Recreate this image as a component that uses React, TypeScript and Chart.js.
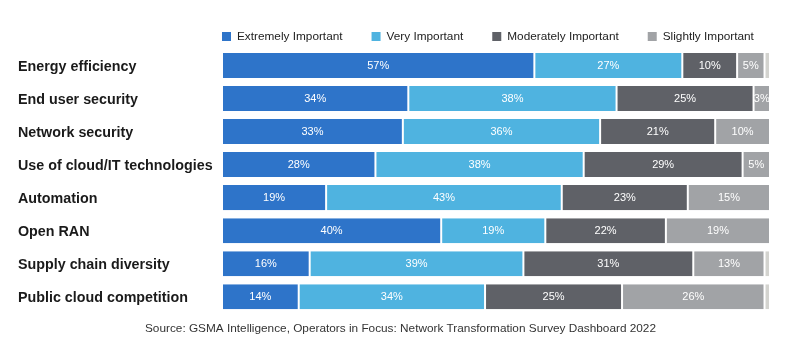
import React, { useEffect, useRef } from "react";
import { Chart, registerables } from "chart.js";

Chart.register(...registerables);

const categories = [
  "Energy efficiency",
  "End user security",
  "Network security",
  "Use of cloud/IT technologies",
  "Automation",
  "Open RAN",
  "Supply chain diversity",
  "Public cloud competition",
];

const extremely = [57, 34, 33, 28, 19, 40, 16, 14];
const very = [27, 38, 36, 38, 43, 19, 39, 34];
const moderately = [10, 25, 21, 29, 23, 22, 31, 25];
const slightly = [5, 3, 10, 5, 15, 19, 13, 26];
const notImportant = [1, 0, 0, 0, 0, 0, 1, 1];

const seriesNames = ["Extremely Important", "Very Important", "Moderately Important", "Slightly Important", "Not Important"];
const legendSeries = [0, 1, 2, 3];
const seriesColors = ["#2E74C9", "#4FB3E0", "#5F6167", "#A1A3A6", "#D3D3CF"];
const sourceText = "Source: GSMA Intelligence, Operators in Focus: Network Transformation Survey Dashboard 2022";

const FONT = "'Liberation Sans', Arial, sans-serif";

const labelPlugin = {
  id: "barLabels",
  afterDatasetsDraw(chart: any) {
    const ctx = chart.ctx;
    ctx.save();
    ctx.font = `11px ${FONT}`;
    ctx.fillStyle = "#ffffff";
    ctx.textAlign = "center";
    ctx.textBaseline = "middle";
    chart.data.datasets.forEach((ds: any, di: number) => {
      if (!legendSeries.includes(di)) return;
      const meta = chart.getDatasetMeta(di);
      meta.data.forEach((el: any, i: number) => {
        const v = ds.data[i];
        if (!v) return;
        const cx = (el.x + el.base) / 2;
        ctx.fillText(`${v}%`, cx, el.y + 0.5);
      });
    });
    ctx.restore();
  },
};

const legendPlugin = {
  id: "topLegend",
  afterDraw(chart: any) {
    const ctx = chart.ctx;
    const box = 9;
    const gapText = 6;
    const gapItem = 29;
    const cy = 36.5;
    ctx.save();
    ctx.font = `11.8px ${FONT}`;
    ctx.textBaseline = "middle";
    ctx.textAlign = "left";
    let x = chart.chartArea.left;
    legendSeries.forEach((di) => {
      const ds = chart.data.datasets[di];
      ctx.fillStyle = ds.backgroundColor;
      ctx.fillRect(x, cy - box / 2, box, box);
      ctx.fillStyle = "#222";
      ctx.fillText(ds.label, x + box + gapText, cy + 0.5);
      x += box + gapText + ctx.measureText(ds.label).width + gapItem;
    });
    ctx.restore();
  },
};

export default function App() {
  const ref = useRef<HTMLCanvasElement | null>(null);
  useEffect(() => {
    if (!ref.current) return;
    const values = [extremely, very, moderately, slightly, notImportant];
    const chart = new Chart(ref.current, {
      type: "bar",
      data: {
        labels: categories,
        datasets: values.map((d, i) => ({
          label: seriesNames[i],
          data: d,
          backgroundColor: seriesColors[i],
          borderColor: "#ffffff",
          borderWidth: { left: 1, right: 1, top: 0, bottom: 0 },
          borderSkipped: false,
          barPercentage: 0.758,
          categoryPercentage: 1,
        })),
      },
      options: {
        indexAxis: "y",
        animation: false,
        responsive: false,
        maintainAspectRatio: false,
        layout: { padding: { left: 18, right: 17, top: 49, bottom: 17.6 } },
        scales: {
          x: {
            stacked: true,
            min: 0,
            max: 100,
            display: false,
          },
          y: {
            stacked: true,
            grid: { display: false },
            border: { display: false },
            ticks: {
              crossAlign: "far",
              color: "#1a1a1a",
              font: { family: FONT, size: 14.3, weight: "bold" },
              padding: 0,
              labelOffset: 1.5,
            },
            afterFit: (s: any) => {
              s.width = 204;
            },
          },
          y2: {
            type: "category",
            position: "right",
            labels: categories,
            grid: { display: false },
            border: { display: false },
            ticks: { display: false },
            afterFit: (s: any) => {
              s.width = 13;
            },
          },
        },
        plugins: {
          legend: { display: false },
          title: {
            display: true,
            position: "bottom",
            text: sourceText,
            color: "#333",
            font: { family: FONT, size: 11.8, weight: "normal", lineHeight: 1.2 },
            padding: { top: 8, bottom: 0 },
          },
          tooltip: { enabled: false },
        },
      } as any,
      plugins: [labelPlugin, legendPlugin],
    });
    return () => chart.destroy();
  }, []);
  return (
    <div style={{ position: "fixed", left: 0, top: 0, width: 800, height: 353, background: "#fff" }}>
      <canvas ref={ref} width={800} height={353} style={{ width: 800, height: 353, display: "block" }} />
    </div>
  );
}
